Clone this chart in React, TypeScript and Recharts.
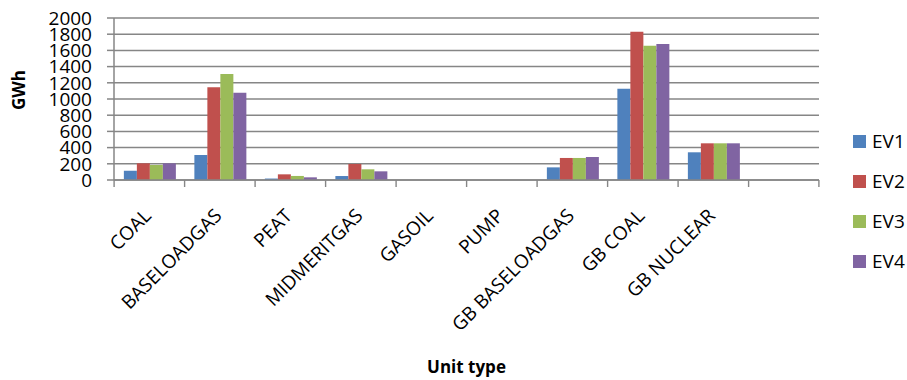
import React from "react";
import { BarChart, Bar, XAxis, YAxis, CartesianGrid, Legend } from "recharts";

const categories = ["COAL", "BASELOADGAS", "PEAT", "MIDMERITGAS", "GASOIL", "PUMP", "GB BASELOADGAS", "GB COAL", "GB NUCLEAR", ""];
const ev1 = [115, 309, 18, 49, 0, 0, 156, 1128, 342, null];
const ev2 = [206, 1144, 70, 198, 0, 0, 272, 1831, 453, null];
const ev3 = [185, 1309, 50, 132, 0, 0, 272, 1658, 453, null];
const ev4 = [206, 1078, 33, 107, 0, 0, 284, 1679, 453, null];
const yTicks = [0, 200, 400, 600, 800, 1000, 1200, 1400, 1600, 1800, 2000];
const seriesNames = ["EV1", "EV2", "EV3", "EV4"];
const seriesColors = ["#4F81BD", "#C0504D", "#9BBB59", "#8064A2"];

const data = categories.map((name, i) => ({ name, EV1: ev1[i], EV2: ev2[i], EV3: ev3[i], EV4: ev4[i] }));

const W = 907;
const H = 380;
const M = { top: 18, right: 28, left: 0, bottom: 0 };
const Y_W = 114;
const LEG_W = 62;
const PLOT_W = W - M.left - M.right - Y_W - LEG_W;
const BAND = PLOT_W / categories.length;
const FONT = "'Open Sans', sans-serif";
const AXIS_C = "#868686";

const XTick = (props: any) => {
  const { x, y, payload, index } = props;
  const last = index === categories.length - 1;
  return (
    <g>
      <line x1={x - BAND / 2} y1={y} x2={x - BAND / 2} y2={y + 7} stroke={AXIS_C} strokeWidth={1.4} />
      {last && <line x1={x + BAND / 2} y1={y} x2={x + BAND / 2} y2={y + 7} stroke={AXIS_C} strokeWidth={1.4} />}
      <text
        transform={`translate(${x + 3},${y + 37}) rotate(-45)`}
        textAnchor="end"
        fontSize={19}
        fontFamily={FONT}
        fill="#000"
      >
        {payload.value}
      </text>
    </g>
  );
};

const renderLegend = (props: any) => {
  const { payload } = props;
  return (
    <div style={{ fontFamily: FONT }}>
      {payload.map((p: any) => (
        <div key={p.value} style={{ height: 40, display: "flex", alignItems: "center" }}>
          <div style={{ width: 13, height: 13, background: p.color, marginRight: 6 }} />
          <span style={{ fontSize: 19, color: "#000", lineHeight: "40px" }}>{p.value}</span>
        </div>
      ))}
    </div>
  );
};

export default function App() {
  return (
    <div style={{ position: "absolute", left: 0, top: 0, width: W, height: H, background: "#fff" }}>
      <BarChart width={W} height={H} data={data} margin={M} barCategoryGap="14%" barGap={0}>
        <CartesianGrid vertical={false} stroke={AXIS_C} strokeWidth={1.5} />
        <XAxis
          dataKey="name"
          interval={0}
          height={H - 180 - M.bottom}
          tickLine={false}
          tickSize={0}
          tickMargin={0}
          axisLine={{ stroke: AXIS_C, strokeWidth: 1.5 }}
          tick={<XTick />}
          label={{ value: "Unit type", position: "insideBottom", offset: 7, fontSize: 17, fontWeight: "bold", fontFamily: FONT, fill: "#000" }}
        />
        <YAxis
          width={Y_W}
          domain={[0, 2000]}
          ticks={yTicks}
          interval={0}
          tickSize={7}
          tickMargin={15}
          tickLine={{ stroke: AXIS_C, strokeWidth: 1.5 }}
          axisLine={{ stroke: AXIS_C, strokeWidth: 1.5 }}
          tick={{ fontSize: 19, fontFamily: FONT, fill: "#000" }}
          label={{
            content: (p: any) => {
              const vb = p.viewBox;
              const cx = 18;
              const cy = vb.y + vb.height / 2 - 9;
              return (
                <text x={cx} y={cy} transform={`rotate(-90 ${cx} ${cy})`} textAnchor="middle" dominantBaseline="central" fontSize={17} fontWeight="bold" fontFamily={FONT} fill="#000">
                  GWh
                </text>
              );
            },
          }}
        />
        <Legend
          layout="vertical"
          align="right"
          verticalAlign="top"
          width={LEG_W}
          content={renderLegend}
          wrapperStyle={{ left: 853, top: 121, width: 60 }}
        />
        {seriesNames.map((s, i) => (
          <Bar key={s} dataKey={s} fill={seriesColors[i]} isAnimationActive={false} />
        ))}
      </BarChart>
    </div>
  );
}
